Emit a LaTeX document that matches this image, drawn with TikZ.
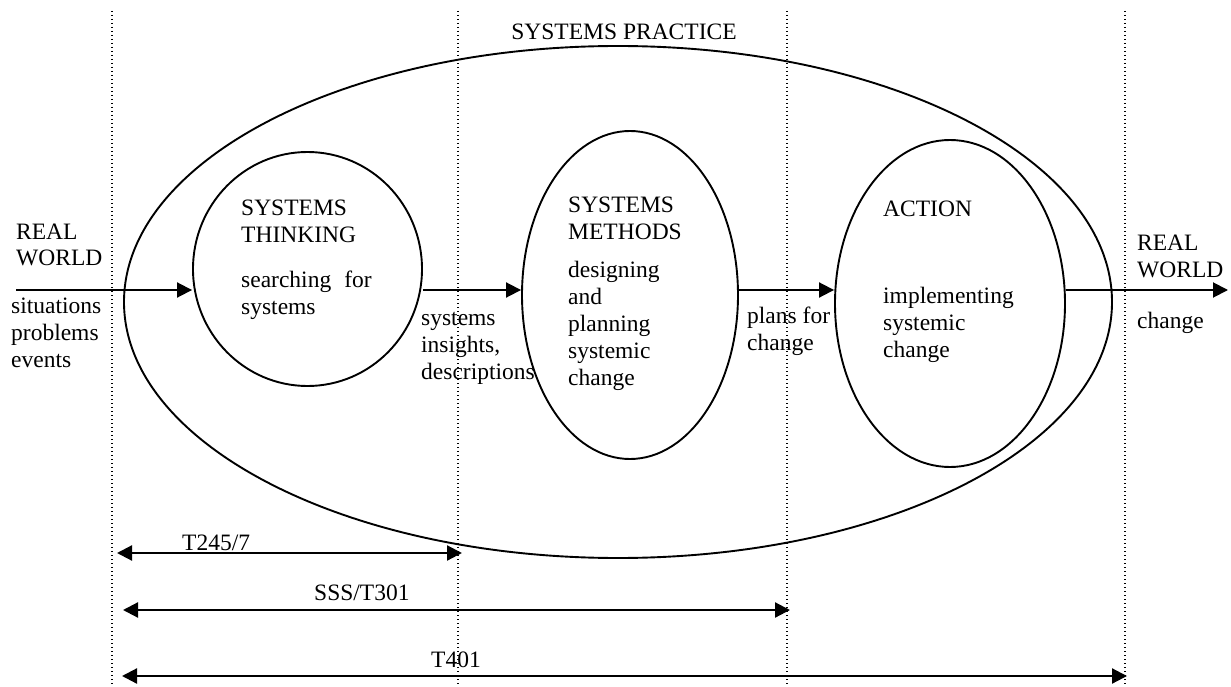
\documentclass[tikz,border=0pt]{standalone}
\usepackage{fontspec}
\setmainfont{Liberation Serif}
\usetikzlibrary{shapes.geometric,arrows.meta}
\newcommand\mylines[1]{\begin{tabular}[t]{@{}l@{}}#1\end{tabular}}
\begin{document}
\begin{tikzpicture}[x=1pt,y=-1pt,
  blob/.style={draw, line width=1.9pt, ellipse, inner sep=0pt},
  flow/.style={line width=1.9pt, -{Triangle[length=15pt,width=15pt]}},
  span/.style={line width=2.2pt, {Triangle[length=15pt,width=15pt]}-{Triangle[length=15pt,width=15pt]}},
  guide/.style={line width=1.4pt, dash pattern=on 1.4pt off 2.6pt},
  txt/.style={anchor=base west, inner sep=0pt, font=\fontsize{23.5}{27}\selectfont},
  ctxt/.style={anchor=base, inner sep=0pt, font=\fontsize{23.5}{27}\selectfont},
]
\useasboundingbox (0,0) rectangle (1231,687);

% dotted guide lines
\foreach \n/\x in {1/112,2/458,3/787,4/1125}{
  \coordinate (d\n t) at (\x,11);
  \coordinate (d\n b) at (\x,687);
  \draw[guide] (d\n t) -- (d\n b);
}

% shapes
\node[blob, minimum width=988pt, minimum height=512pt] (sp) at (618,302) {};
\node[blob, minimum width=229pt, minimum height=234pt] (c1) at (307.5,269) {};
\node[blob, minimum width=216pt, minimum height=328pt] (c2) at (630,295) {};
\node[blob, minimum width=230pt, minimum height=327pt] (c3) at (950,303.5) {};

% texts
\node[ctxt] (tsp) at (624,40) {SYSTEMS PRACTICE};
\node[txt] (rw1) at (16,239) {\mylines{REAL\\WORLD}};
\node[txt] (sit) at (11,313) {\mylines{situations\\problems\\events}};
\node[txt] (st) at (241,215) {\mylines{SYSTEMS\\THINKING}};
\node[txt] (sfs) at (241,287) {\mylines{searching\hspace{13pt}for\\systems}};
\node[txt] (sid) at (421,325) {\mylines{systems\\insights,\\descriptions}};
\node[txt] (sm) at (568,213) {\mylines{SYSTEMS\\METHODS}};
\node[txt] (dp) at (568,277) {\mylines{designing\\and\\planning\\systemic\\change}};
\node[txt] (pfc) at (747,323) {\mylines{plans for\\change}};
\node[txt] (act) at (883,217) {ACTION};
\node[txt] (isc) at (883,303) {\mylines{implementing\\systemic\\change}};
\node[txt] (rw2) at (1137,251) {\mylines{REAL\\WORLD}};
\node[txt] (chg) at (1137,328) {change};

% flow arrows
\coordinate (in1) at (16,290);
\coordinate (out1) at (1228,290);
\draw[flow] (in1) -- (in1 -| c1.west);
\draw[flow] (c1.east |- in1) -- (c2.west |- in1);
\draw[flow] (c2.east |- in1) -- (c3.west |- in1);
\draw[flow] (c3.east |- in1) -- (out1);

% course spans
\coordinate (s1a) at (117,553);  \coordinate (s1b) at (462,553);
\coordinate (s2a) at (123,610);  \coordinate (s2b) at (790,610);
\coordinate (s3a) at (122,676);  \coordinate (s3b) at (1127,676);
\draw[span] (s1a) -- (s1b);
\draw[span] (s2a) -- (s2b);
\draw[span] (s3a) -- (s3b);
\node[txt] (l1) at (182,550) {T245/7};
\node[txt] (l2) at (314,600) {SSS/T301};
\node[ctxt] (l3) at (456,667) {T401};
\end{tikzpicture}
\end{document}
